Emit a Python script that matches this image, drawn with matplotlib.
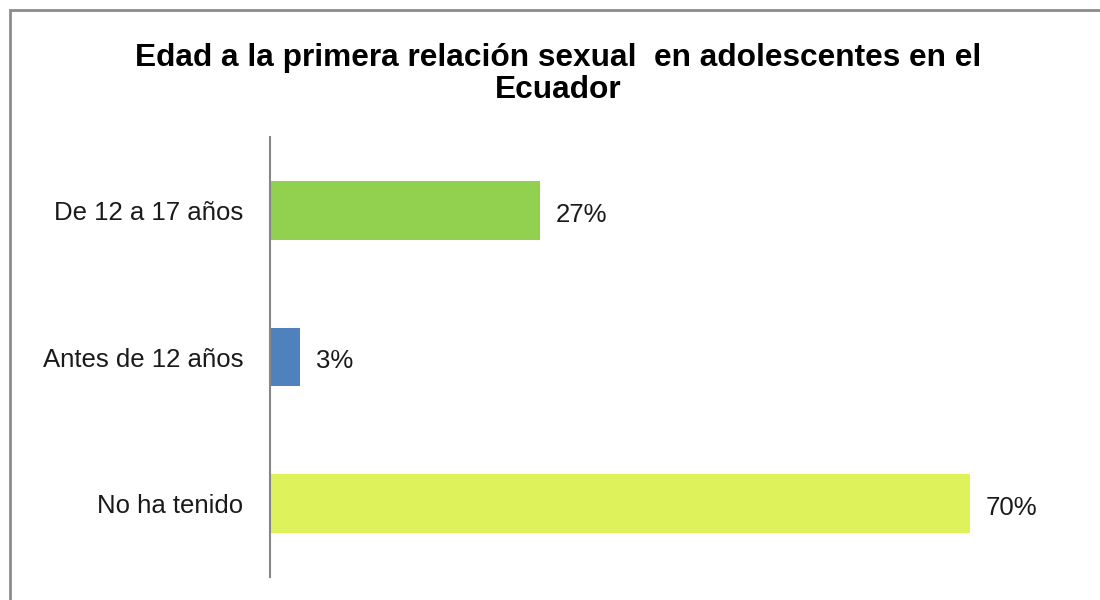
import matplotlib.pyplot as plt
from matplotlib.patches import Rectangle

# data (bottom to top)
categorias = ['No ha tenido', 'Antes de 12 años', 'De 12 a 17 años']
valores = [70, 3, 27]
colores = ['#DDF25B', '#4F81BD', '#92D050']

plt.rcParams['font.family'] = ['Liberation Sans', 'DejaVu Sans']

fig = plt.figure(figsize=(11, 6), dpi=100)
ax = fig.add_axes([270 / 1100, 23 / 600, 800 / 1100, 440 / 600])

bars = ax.barh(range(len(categorias)), valores, height=0.40, color=colores)
for b, v in zip(bars, valores):
    ax.text(b.get_width() + 1.6, b.get_y() + b.get_height() / 2 - 0.03, f'{v}%',
            va='center', ha='left', fontsize=18.5, color='#1a1a1a')

ax.set_xlim(0, 80)
ax.set_ylim(-0.5, 2.5)
ax.set_yticks(range(len(categorias)))
ax.set_yticklabels(categorias, fontsize=18.5, color='#1a1a1a')
ax.tick_params(axis='y', length=0, pad=19)
ax.set_xticks([])
for s in ['top', 'right', 'bottom']:
    ax.spines[s].set_visible(False)
ax.spines['left'].set_color('#868686')
ax.spines['left'].set_linewidth(1.5)

fig.text(558 / 1100, 1 - 74 / 600,
         'Edad a la primera relación sexual  en adolescentes en el\nEcuador',
         ha='center', va='center', fontsize=22.8, fontweight='bold',
         linespacing=1.08)

# outer border (only top and left visible in the original crop)
fig.patches.append(Rectangle((10 / 1100, -0.1), 1.2, 1 - 10 / 600 + 0.1,
                             transform=fig.transFigure, fill=False,
                             edgecolor='#8c8c8c', linewidth=2))

fig.savefig('out.png', dpi=100)
